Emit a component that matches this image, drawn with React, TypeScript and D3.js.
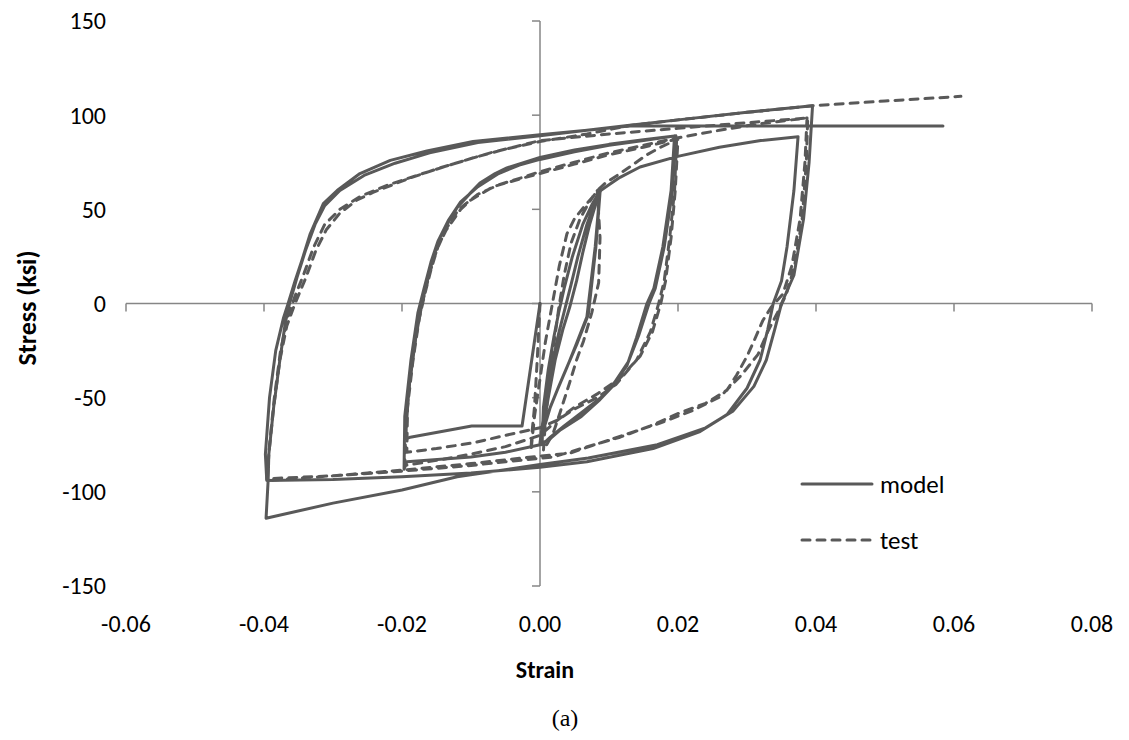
import React from "react";
import * as d3 from "d3";

type P = [number, number];

// ---------- MODEL (solid) ----------
const modelInitial: P[] = [[0,0],[-0.0026,-65],[-0.0099,-65],[-0.0188,-71],[-0.0195,-72]];
const modelMidUp1: P[] = [[-0.0190,-45],[-0.0180,-18],[-0.0171,0],[-0.0164,11],[-0.0155,24],[-0.0145,35],[-0.0130,45],[-0.0120,51],[-0.0100,59],[-0.0087,64],[-0.0065,69],[-0.0048,72],[0,77.5],[0.005,81.5],[0.010,84.5],[0.015,87],[0.0195,89]];
const modelMidDown1: P[] = [[0.0190,60],[0.0178,30],[0.0165,8],[0.0155,0],[0.0140,-18],[0.0126,-33],[0.0105,-44],[0.0087,-51],[0.0060,-60],[0.0030,-67],[0.0014,-72],[0,-75],[-0.005,-79],[-0.010,-81.5],[-0.0193,-84],[-0.0197,-88]];
const modelMidUp2: P[] = [[-0.0196,-60],[-0.0187,-30],[-0.0177,-5],[-0.0168,8],[-0.0158,22],[-0.0148,33],[-0.0133,44],[-0.0115,54],[-0.0090,62],[-0.0060,69],[-0.0030,73.5],[0,76.5],[0.005,80.5],[0.010,84],[0.015,86.5],[0.0197,89]];
const modelMidDown2: P[] = [[0.0192,60],[0.0180,30],[0.0167,8],[0.0158,0],[0.0143,-17],[0.0128,-31],[0.0108,-42],[0.0088,-50],[0.0060,-58],[0.0035,-65],[0.0015,-71],[0.0003,-75]];
const modelInnerUp1: P[] = [[0.0005,-55],[0.0012,-35],[0.0020,-18],[0.0027,-5],[0.0035,8],[0.0047,25],[0.0062,42],[0.0076,53],[0.0087,60]];
const modelInnerDown1: P[] = [[0.0080,30],[0.0068,-7],[0.0052,-22],[0.0039,-34],[0.0025,-46],[0.0014,-56],[0.0005,-67],[0,-74]];
const modelInnerUp2: P[] = [[0.0008,-52],[0.0017,-33],[0.0027,-16],[0.0036,-3],[0.0045,10],[0.0055,25],[0.0068,42],[0.0079,53],[0.0087,59]];
const modelInnerDown2: P[] = [[0.0081,30],[0.0070,-6],[0.0054,-21],[0.0040,-33],[0.0026,-45],[0.0015,-55],[0.0006,-66],[0.0001,-74]];
const modelInnerUp3: P[] = [[0.0012,-50],[0.0022,-30],[0.0033,-14],[0.0043,-2],[0.0053,12],[0.0062,27],[0.0072,42],[0.0081,53],[0.0088,60]];
const modelToOuter: P[] = [[0.0100,63],[0.0116,67],[0.0145,72.5],[0.0198,78],[0.0260,83],[0.0320,86.5],[0.0374,88.6]];
const modelOuterDown1: P[] = [[0.0368,60],[0.0358,30],[0.0350,12],[0.0338,0],[0.0330,-14],[0.0319,-30],[0.0300,-45],[0.0271,-59],[0.0232,-68],[0.0164,-77],[0.0068,-84],[0,-87],[-0.010,-90],[-0.020,-92],[-0.030,-93.5],[-0.0396,-94]];
const modelOuterUp1: P[] = [[-0.0398,-80],[-0.0392,-50],[-0.0383,-25],[-0.0372,-8],[-0.0365,0],[-0.0355,12],[-0.0345,23],[-0.0333,37],[-0.0314,53],[-0.0294,60],[-0.0261,69],[-0.0217,76],[-0.0164,81],[-0.0097,86],[0,89.6],[0.0068,92],[0.0130,94.6],[0.0200,97.5],[0.0300,101.5],[0.0395,105]];
const modelOuterDown2: P[] = [[0.0390,75],[0.0382,45],[0.0368,15],[0.0350,0],[0.0340,-14],[0.0328,-30],[0.0310,-44],[0.0280,-57],[0.0240,-66],[0.0170,-75],[0.0070,-82],[0,-85.5],[-0.0120,-92],[-0.0200,-99],[-0.0300,-106],[-0.0397,-114]];
const modelFinal: P[] = [[-0.0394,-94],[-0.0393,-80],[-0.0386,-55],[-0.0377,-30],[-0.0369,-10],[-0.0363,0],[-0.0352,14],[-0.0340,28],[-0.0326,42],[-0.0312,52],[-0.0290,60],[-0.0255,68],[-0.0210,74.5],[-0.0160,80],[-0.0090,85.5],[0,89],[0.0068,92],[0.0130,94.3],[0.0584,94.3]];

// ---------- TEST (dashed) ----------
const testInitial: P[] = [[0,0],[-0.0004,-30],[-0.0008,-55],[-0.0012,-70],[-0.0013,-78]];
const testInnerUp1: P[] = [[-0.0008,-60],[0.0000,-40],[0.0008,-20],[0.0019,2],[0.0028,20],[0.0039,37],[0.0050,45],[0.0063,51],[0.0075,56],[0.0083,60]];
const testInnerDown1: P[] = [[0.0087,35],[0.0085,11],[0.0075,-5],[0.0063,-20],[0.0053,-30],[0.0043,-42],[0.0029,-58],[0.0019,-69],[0.0005,-78]];
const testInnerUp2: P[] = [[0.0008,-62],[0.0013,-42],[0.0020,-22],[0.0027,-3],[0.0035,15],[0.0045,32],[0.0058,45],[0.0070,53],[0.0083,60]];
const testToMid: P[] = [[0.0095,64],[0.0116,69],[0.0130,72.5],[0.0155,79],[0.0175,83],[0.0198,87]];
const testMidDown1: P[] = [[0.0195,60],[0.0188,35],[0.0180,12],[0.0172,0],[0.0160,-15],[0.0140,-30],[0.0110,-43],[0.0083,-50],[0.0050,-56],[0.0025,-62],[0,-66],[-0.0050,-70],[-0.0097,-74],[-0.0150,-77],[-0.0193,-79]];
const testMidUp1: P[] = [[-0.0192,-55],[-0.0184,-30],[-0.0175,-8],[-0.0167,5],[-0.0158,18],[-0.0148,30],[-0.0136,39],[-0.0115,50],[-0.0100,55],[-0.0068,62],[-0.0025,66.6],[0,69],[0.0050,74],[0.0100,79],[0.0150,83],[0.0200,87.5]];
const testMidDown2: P[] = [[0.0196,60],[0.0190,35],[0.0182,12],[0.0175,0],[0.0163,-15],[0.0145,-28],[0.0115,-40],[0.0083,-48],[0.0050,-55],[0.0025,-62],[0,-70],[-0.0050,-76],[-0.0100,-80],[-0.0145,-83],[-0.0196,-86]];
const testMidUp2: P[] = [[-0.0194,-60],[-0.0186,-32],[-0.0177,-10],[-0.0168,4],[-0.0160,16],[-0.0150,28],[-0.0137,39],[-0.0118,50],[-0.0090,58],[-0.0060,63],[-0.0025,67],[0,70],[0.0050,75],[0.0100,80],[0.0150,84],[0.0200,88],[0.0260,92],[0.0320,95.5],[0.0387,98.5]];
const testOuterDown1: P[] = [[0.0384,75],[0.0377,45],[0.0365,20],[0.0352,5],[0.0335,-2],[0.0323,-9],[0.0310,-20],[0.0300,-28],[0.0285,-38],[0.0271,-46],[0.0240,-53],[0.0203,-58],[0.0160,-65],[0.0116,-71],[0.0060,-77],[0.0019,-81.5],[-0.0050,-84],[-0.0100,-86],[-0.0200,-89],[-0.0300,-91.5],[-0.0395,-93]];
const testOuterUp1: P[] = [[-0.0393,-80],[-0.0386,-55],[-0.0377,-30],[-0.0367,-12],[-0.0355,0],[-0.0339,14],[-0.0325,28],[-0.0310,39],[-0.0290,48],[-0.0265,55],[-0.0242,59],[-0.0193,66],[-0.0145,72],[-0.0072,80],[0,86.5],[0.0100,90],[0.0200,93],[0.0300,96],[0.0388,98.5]];
const testOuterDown2: P[] = [[0.0386,75],[0.0380,45],[0.0369,20],[0.0357,5],[0.0344,-5],[0.0330,-15],[0.0316,-27],[0.0292,-38],[0.0261,-49.5],[0.0220,-57],[0.0174,-63.5],[0.0120,-70],[0.0043,-79.5],[0,-81],[-0.0050,-83],[-0.0100,-85],[-0.0200,-88.5],[-0.0300,-91.5],[-0.0396,-94]];
const testFinal: P[] = [[-0.0392,-75],[-0.0385,-50],[-0.0376,-25],[-0.0366,-8],[-0.0356,3],[-0.0342,16],[-0.0328,30],[-0.0312,42],[-0.0290,50],[-0.0260,57],[-0.0220,63],[-0.0170,69],[-0.0100,77],[-0.0050,82],[0,86],[0.0068,90],[0.0130,94.5],[0.0200,97.5],[0.0300,101.5],[0.0395,105],[0.0500,107.5],[0.0610,110]];

const modelSeries: P[] = [
  ...modelInitial, ...modelMidUp1, ...modelMidDown1, ...modelMidUp2, ...modelMidDown2,
  ...modelInnerUp1, ...modelInnerDown1, ...modelInnerUp2, ...modelInnerDown2, ...modelInnerUp3,
  ...modelToOuter, ...modelOuterDown1, ...modelOuterUp1, ...modelOuterDown2, ...modelFinal,
];
const testSeries: P[] = [
  ...testInitial, ...testInnerUp1, ...testInnerDown1, ...testInnerUp2, ...testToMid,
  ...testMidDown1, ...testMidUp1, ...testMidDown2, ...testMidUp2,
  ...testOuterDown1, ...testOuterUp1, ...testOuterDown2, ...testFinal,
];

const xTicks = [-0.06, -0.04, -0.02, 0, 0.02, 0.04, 0.06, 0.08];
const yTicks = [-150, -100, -50, 0, 50, 100, 150];
const seriesNames = ["model", "test"];

const W = 1129, H = 740;
const x = d3.scaleLinear().domain([-0.06, 0.08]).range([126, 1092]);
const y = d3.scaleLinear().domain([-150, 150]).range([586, 21]);
const line = d3.line<P>().x(d => x(d[0])).y(d => y(d[1]));

const AXIS = "#868686";
const INK = "#595959";
const FONT = "Calibri, Carlito, Lato, 'Open Sans', sans-serif";

export default function App() {
  const x0 = x(0), y0 = y(0);
  return (
    <div style={{ position: "absolute", left: 0, top: 0 }}>
      <svg width={W} height={H} style={{ display: "block", background: "#fff" }}>
        {/* axes */}
        <line x1={x(-0.06)} x2={x(0.08)} y1={y0} y2={y0} stroke={AXIS} strokeWidth={1.5} />
        <line x1={x0} x2={x0} y1={y(150)} y2={y(-150)} stroke={AXIS} strokeWidth={1.5} />
        {xTicks.map(t => (
          <line key={"xt" + t} x1={x(t)} x2={x(t)} y1={y0} y2={y0 + 8} stroke={AXIS} strokeWidth={1.5} />
        ))}
        {yTicks.map(t => (
          <line key={"yt" + t} x1={x0 - 8} x2={x0} y1={y(t)} y2={y(t)} stroke={AXIS} strokeWidth={1.5} />
        ))}
        {/* data */}
        <path d={line(modelSeries) || ""} fill="none" stroke={INK} strokeWidth={3} strokeLinejoin="round" strokeLinecap="round" />
        <path d={line(testSeries) || ""} fill="none" stroke={INK} strokeWidth={3} strokeLinejoin="round" strokeLinecap="round" strokeDasharray="8,7" />
        {/* tick labels */}
        {yTicks.map(t => (
          <text key={"yl" + t} x={106} y={y(t)} dy="0.35em" textAnchor="end" fontFamily={FONT} fontSize={24} fill="#000">{t}</text>
        ))}
        {xTicks.map(t => (
          <text key={"xl" + t} x={x(t)} y={624} dy="0.35em" textAnchor="middle" fontFamily={FONT} fontSize={24} fill="#000">{t.toFixed(2)}</text>
        ))}
        {/* axis titles */}
        <text x={545} y={670} dy="0.35em" textAnchor="middle" fontFamily={FONT} fontWeight="bold" fontSize={24} fill="#000">Strain</text>
        <text transform={`translate(27,308) rotate(-90)`} dy="0.35em" textAnchor="middle" fontFamily={FONT} fontWeight="bold" fontSize={26} fill="#000">Stress (ksi)</text>
        {/* legend */}
        <line x1={802} x2={872} y1={484} y2={484} stroke={INK} strokeWidth={3} strokeLinecap="round" />
        <text x={880} y={484} dy="0.35em" fontFamily={FONT} fontSize={25} fill="#000">{seriesNames[0]}</text>
        <line x1={802} x2={872} y1={540} y2={540} stroke={INK} strokeWidth={3} strokeLinecap="round" strokeDasharray="8,7" />
        <text x={880} y={540} dy="0.35em" fontFamily={FONT} fontSize={25} fill="#000">{seriesNames[1]}</text>
        {/* caption */}
        <text x={565} y={718} dy="0.35em" textAnchor="middle" fontFamily="'Liberation Serif', 'Times New Roman', serif" fontSize={24} fill="#000">(a)</text>
      </svg>
    </div>
  );
}
